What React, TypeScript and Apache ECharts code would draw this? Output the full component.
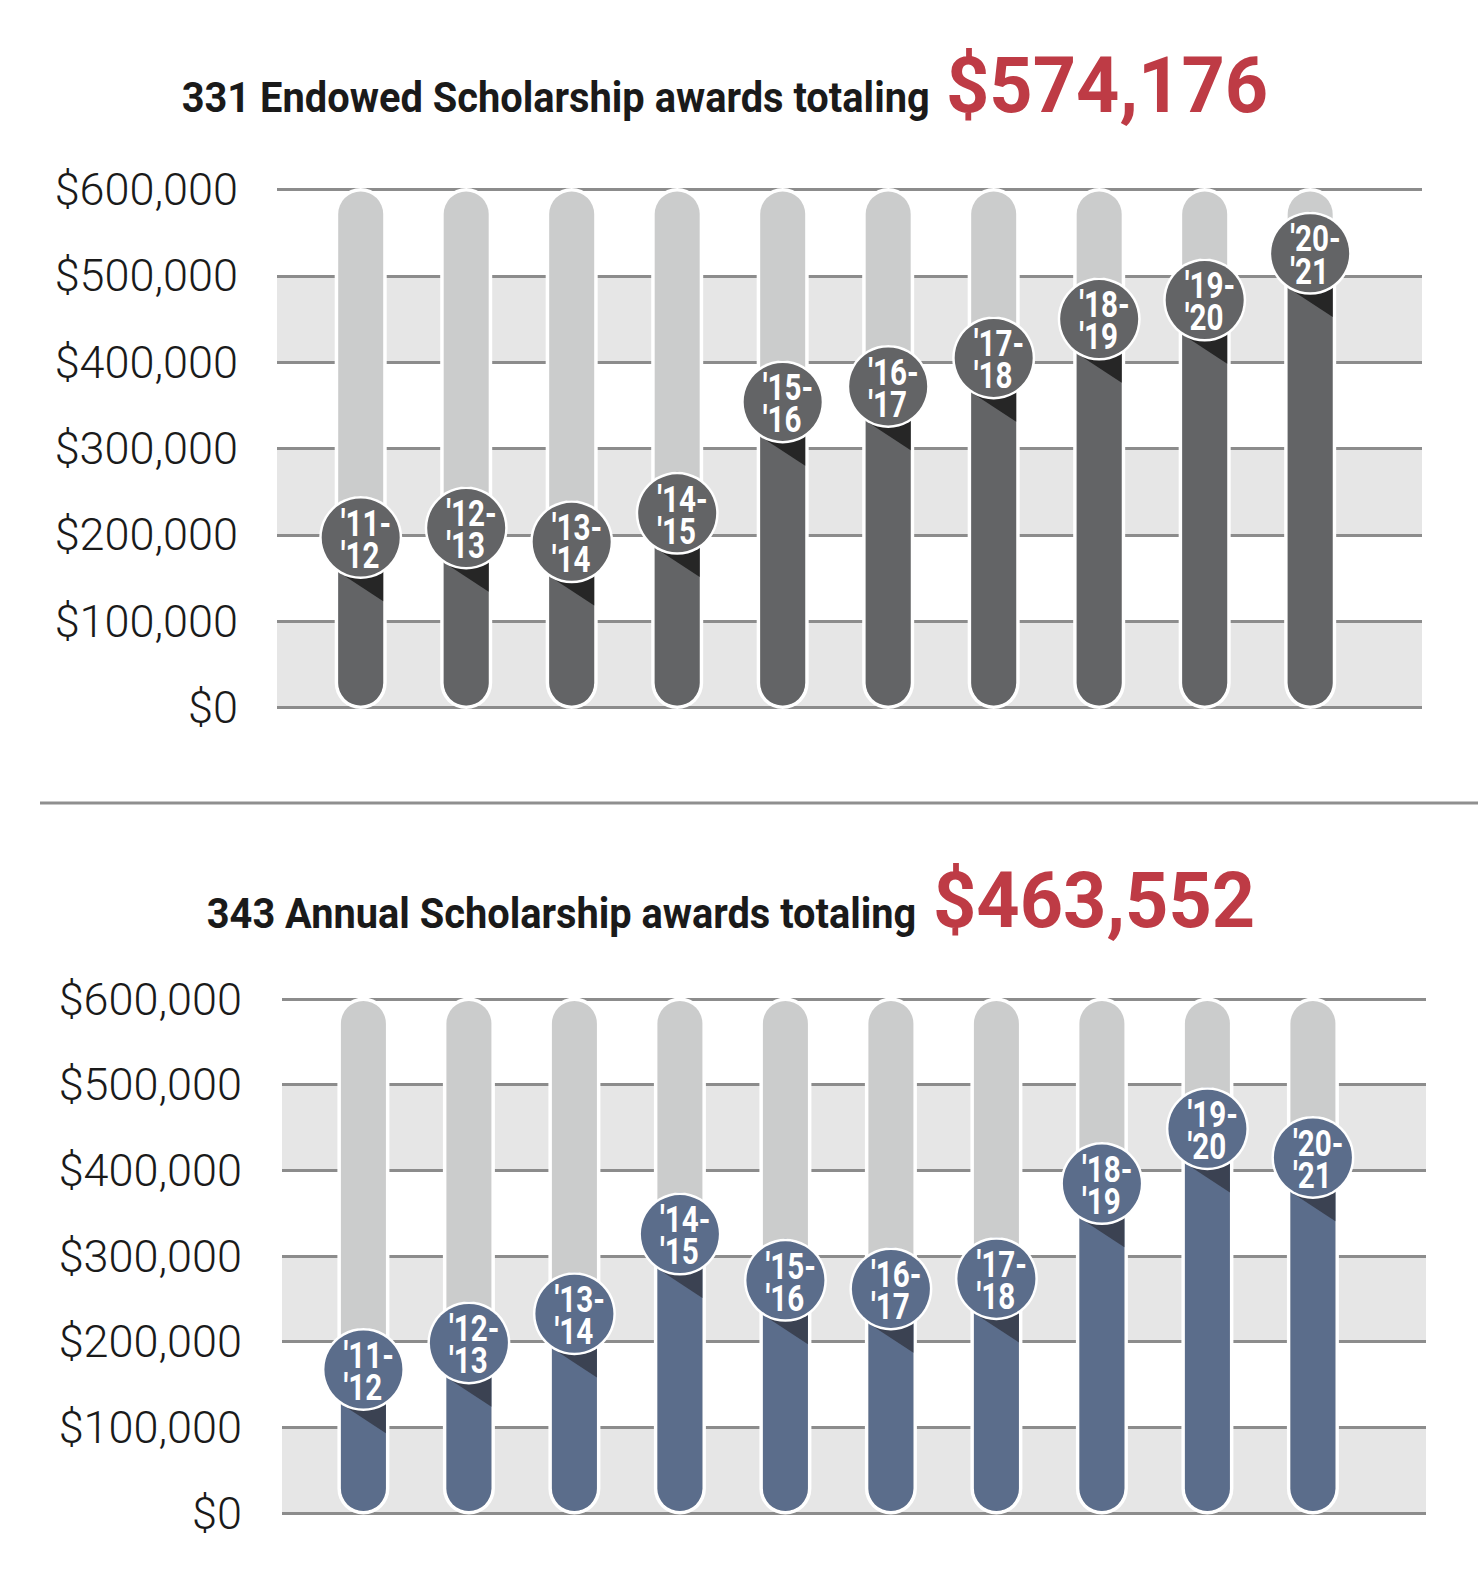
import React, { useEffect, useRef } from "react";
import * as echarts from "echarts";

const seasons = ["'11-'12", "'12-'13", "'13-'14", "'14-'15", "'15-'16", "'16-'17", "'17-'18", "'18-'19", "'19-'20", "'20-'21"];
const endowedValues = [245000, 256000, 240000, 273000, 402000, 420000, 453000, 498000, 520000, 574176];
const annualValues = [216000, 247000, 281000, 374000, 320000, 310000, 322000, 433000, 497000, 463552];
const yTickValues = [0, 100000, 200000, 300000, 400000, 500000, 600000];
const yTickLabels = ["$0", "$100,000", "$200,000", "$300,000", "$400,000", "$500,000", "$600,000"];
const endowedTitle = "331 Endowed Scholarship awards totaling";
const endowedTotal = "$574,176";
const annualTitle = "343 Annual Scholarship awards totaling";
const annualTotal = "$463,552";

const Y_MAX = 600000;
const FONT = "Roboto, 'Noto Sans', 'DejaVu Sans', sans-serif";

function fitScale(text: string, font: string, target: number): number {
  const ctx = document.createElement("canvas").getContext("2d");
  if (!ctx) return 1;
  ctx.font = font;
  const w = ctx.measureText(text).width;
  return w > 0 ? target / w : 1;
}

function makeRenderItem(barColor: string, shadowColor: string) {
  return (params: any, api: any) => {
    const i = api.value(0);
    const v = api.value(1);
    const top = api.coord([i, v]);
    const base = api.coord([i, 0]);
    const full = api.coord([i, Y_MAX]);
    const cx = top[0];
    const half = 22.5;
    const xL = cx - half;
    const xR = cx + half;
    const barTop = full[1] + 2;
    const barBot = base[1] - 2;
    const rOuter = 41.5;
    const cy = top[1] + rOuter;
    const tanOff = 34.3;
    const label = seasons[i].replace("-", "-\n");
    return {
      type: "group",
      children: [
        {
          type: "rect",
          shape: { x: xL - 3.5, y: barTop - 3.5, width: 2 * half + 7, height: barBot - barTop + 7, r: half + 3.5 },
          style: { fill: "#ffffff" },
        },
        {
          type: "rect",
          shape: { x: xL, y: barTop, width: 2 * half, height: barBot - barTop, r: half },
          style: { fill: "#cbcccc" },
        },
        {
          type: "rect",
          shape: { x: xL, y: top[1], width: 2 * half, height: barBot - top[1], r: half },
          style: { fill: barColor },
        },
        {
          type: "polygon",
          shape: {
            points: [
              [xL, cy],
              [xR, cy],
              [xR, cy + tanOff + 29.5],
              [xL, cy + tanOff],
            ],
          },
          style: { fill: shadowColor },
        },
        {
          type: "circle",
          shape: { cx, cy, r: rOuter },
          style: { fill: "#ffffff" },
        },
        {
          type: "circle",
          shape: { cx, cy, r: 39 },
          style: { fill: barColor },
        },
        {
          type: "text",
          x: cx - 20,
          y: cy + 1.5,
          scaleX: 0.8,
          style: {
            text: label,
            fill: "#ffffff",
            font: `bold 37px ${FONT}`,
            lineHeight: 32,
            align: "left",
            verticalAlign: "middle",
            textAlign: "left",
            textVerticalAlign: "middle",
          },
        },
      ],
    };
  };
}

function yAxisFor(gridIndex: number, margin: number) {
  return {
    type: "value",
    gridIndex,
    min: 0,
    max: Y_MAX,
    interval: 100000,
    axisLine: { show: false },
    axisTick: { show: false },
    axisLabel: {
      margin,
      fontSize: 45,
      fontWeight: 300,
      fontFamily: FONT,
      color: "#1a1a1a",
      formatter: (val: number) => {
        const k = yTickValues.indexOf(val);
        return k >= 0 ? yTickLabels[k] : "";
      },
    },
    splitLine: { show: true, lineStyle: { color: "#8c8c8c", width: 3 } },
    splitArea: { show: true, areaStyle: { color: ["#e6e6e6", "#ffffff"] } },
  };
}

function titleTexts(
  black: string,
  red: string,
  blackX: number,
  blackW: number,
  blackCy: number,
  redX: number,
  redW: number,
  redCy: number
) {
  const fontB = `bold 42px ${FONT}`;
  const fontR = `bold 78px ${FONT}`;
  return [
    {
      type: "text",
      x: blackX,
      y: blackCy,
      scaleX: fitScale(black, fontB, blackW),
      style: {
        text: black,
        font: fontB,
        fill: "#1a1a1a",
        align: "left",
        verticalAlign: "middle",
        textAlign: "left",
        textVerticalAlign: "middle",
      },
    },
    {
      type: "text",
      x: redX,
      y: redCy,
      scaleX: fitScale(red, fontR, redW),
      style: {
        text: red,
        font: fontR,
        fill: "#be3b45",
        align: "left",
        verticalAlign: "middle",
        textAlign: "left",
        textVerticalAlign: "middle",
      },
    },
  ];
}

export default function App() {
  const ref = useRef<HTMLDivElement>(null);
  useEffect(() => {
    document.body.style.margin = "0";
    if (!ref.current) return;
    const chart = echarts.init(ref.current, null, { renderer: "svg" });
    const option: any = {
      animation: false,
      backgroundColor: "#ffffff",
      textStyle: { fontFamily: FONT },
      grid: [
        { left: 277, top: 189.5, width: 1145, height: 518 },
        { left: 282, top: 999, width: 1144, height: 514 },
      ],
      xAxis: [
        { type: "value", gridIndex: 0, min: -0.7934, max: 10.06, show: false, splitLine: { show: false } },
        { type: "value", gridIndex: 1, min: -0.7716, max: 10.072, show: false, splitLine: { show: false } },
      ],
      yAxis: [yAxisFor(0, 39), yAxisFor(1, 40)],
      series: [
        {
          type: "custom",
          xAxisIndex: 0,
          yAxisIndex: 0,
          clip: false,
          encode: { x: 0, y: 1 },
          data: endowedValues.map((v, i) => [i, v]),
          renderItem: makeRenderItem("#636466", "#262626"),
        },
        {
          type: "custom",
          xAxisIndex: 1,
          yAxisIndex: 1,
          clip: false,
          encode: { x: 0, y: 1 },
          data: annualValues.map((v, i) => [i, v]),
          renderItem: makeRenderItem("#5b6d8b", "#3b4252"),
        },
      ],
      graphic: [
        ...titleTexts(endowedTitle, endowedTotal, 181.7, 748, 97.4, 946, 322, 86),
        ...titleTexts(annualTitle, annualTotal, 206.8, 710, 913.6, 933, 322, 901),
        {
          type: "line",
          shape: { x1: 40, y1: 803, x2: 1478, y2: 803 },
          style: { stroke: "#8f8f8f", lineWidth: 3 },
        },
      ],
    };
    chart.setOption(option);
    return () => chart.dispose();
  }, []);
  return <div ref={ref} style={{ width: 1478, height: 1574 }} />;
}
